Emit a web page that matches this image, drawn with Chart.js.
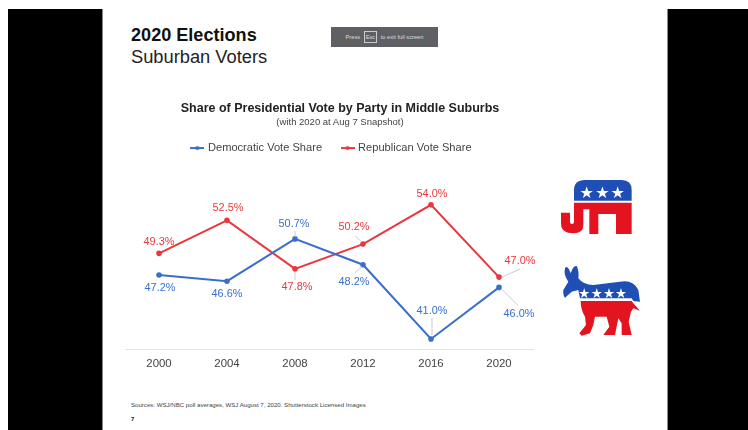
<!DOCTYPE html>
<html>
<head>
<meta charset="utf-8">
<script src="https://cdn.jsdelivr.net/npm/chart.js@4"></script>
<style>
    html, body { margin: 0; padding: 0; background: #fff; }
    body { width: 748px; height: 430px; overflow: hidden; position: relative; font-family: "Liberation Sans", Arial, sans-serif; }
    .bar { position: absolute; top: 9px; height: 421px; background: #000; }
    #barLeft { left: 8px; width: 94px; border-right: 1px solid #888; }
    #barRight { left: 667px; width: 81px; border-left: 1px solid #888; }
    .abs { position: absolute; white-space: nowrap; }
    #heading { left: 131px; top: 25px; font-size: 18.1px; font-weight: bold; color: #111; }
    #subheading { left: 131px; top: 46px; font-size: 18.3px; color: #222; }
    #escNote { left: 331px; top: 27px; width: 107px; height: 20px; background: #5f6063; color: #ddd; font-size: 5.7px; line-height: 20px; text-align: center; }
    #escNote span { border: 1px solid #ccc; padding: 2px 1px; margin: 0 2px; }
    #chartTitle { left: 103px; width: 474px; top: 101px; text-align: center; font-size: 12.5px; font-weight: bold; color: #222; }
    #chartNote { left: 103px; width: 474px; top: 116px; text-align: center; font-size: 9.5px; color: #444; }
    #sources { left: 131px; top: 401px; font-size: 6.1px; color: #444; }
    #pageNum { left: 131px; top: 416px; font-size: 6px; font-weight: bold; color: #222; }
    #chartBox { position: absolute; left: 103px; top: 90px; width: 564px; height: 290px; }
    svg.logo { position: absolute; left: 550px; top: 170px; }
</style>
</head>
<body>
<div class="bar" id="barLeft"></div>
<div class="bar" id="barRight"></div>
<div class="abs" id="heading">2020 Elections</div>
<div class="abs" id="subheading">Suburban Voters</div>
<div class="abs" id="escNote">Press <span>Esc</span> to exit full screen</div>
<div id="chartBox"><canvas id="voteChart" width="564" height="290"></canvas></div>
<div class="abs" id="chartTitle">Share of Presidential Vote by Party in Middle Suburbs</div>
<div class="abs" id="chartNote">(with 2020 at Aug 7 Snapshot)</div>

<!-- party logos -->
<svg class="logo" width="100" height="175" viewBox="0 0 300 525">
    <path d="M72 92V60Q72 30 105 30H215Q245 30 245 60V92Z" fill="#1f4fb5"/>
    <path d="M72 98H245V192H198V132H145V192H118V118H100V165Q100 190 70 190Q33 190 33 160V128H60V155Q60 162 66 162Q72 162 72 155Z" fill="#e3141f"/>
    <g fill="#fff" font-size="48" font-family="DejaVu Sans" text-anchor="middle">
        <text x="110" y="84">★</text><text x="157" y="84">★</text><text x="203" y="84">★</text>
    </g>
    <path d="M45 295Q50 285 58 300L62 310Q70 285 80 288Q88 305 85 325Q100 345 130 345L210 335Q250 328 265 360L270 395L250 393L245 385L90 385L85 360L65 365L45 383Q38 375 40 360L55 335Q40 315 45 295Z" fill="#1f4fb5"/>
    <path d="M92 393H245L250 400L270 422L250 415L243 425L236 455L245 495H215L215 460L205 445L195 495H160L178 470L170 440H135L130 465L120 490L95 497L88 490L108 465L105 440Q92 420 92 393Z" fill="#e3141f"/>
    <g fill="#fff" font-size="40" font-family="DejaVu Sans" text-anchor="middle">
        <text x="103" y="384">★</text><text x="140" y="384">★</text><text x="177" y="384">★</text><text x="213" y="384">★</text>
    </g>
</svg>

<div class="abs" id="sources">Sources: WSJ/NBC poll averages, WSJ August 7, 2020. Shutterstock Licensed Images</div>
<div class="abs" id="pageNum">7</div>

<script>
// Election years and vote share per party
const years = ['2000', '2004', '2008', '2012', '2016', '2020'];
const demShare = [47.2, 46.6, 50.7, 48.2, 41.0, 46.0];
const repShare = [49.3, 52.5, 47.8, 50.2, 54.0, 47.0];

const demColor = '#3a6fc9';
const repColor = '#e8383d';
const fontFamily = '"Liberation Sans", Arial, sans-serif';

// Label placement around each point: dx, dy from the point, and an optional grey leader
const demLabels = [
    { dx: 1, dy: 12.5 }, { dx: 0, dy: 13 }, { dx: -1, dy: -15, leader: [0, -2, 0, -8] },
    { dx: -9, dy: 17, leader: [-1, 2, -8, 8] }, { dx: 1, dy: -28, leader: [1, -4, 1, -21] },
    { dx: 20, dy: 27, leader: [3, 2, 19, 18] }
];
const repLabels = [
    { dx: 0, dy: -11 }, { dx: 1, dy: -12 }, { dx: 2, dy: 18.5, leader: [0, 3, 0, 11] },
    { dx: -9, dy: -17, leader: [-1, -2, -8, -8] }, { dx: 1, dy: -11 },
    { dx: 21, dy: -16, leader: [3, 0, 21, -8] }
];

// Small line-and-dot swatch used in the legend
function legendSwatch(color) {
    const swatch = document.createElement('canvas');
    swatch.width = 14;
    swatch.height = 6;
    const c = swatch.getContext('2d');
    c.fillStyle = color;
    c.fillRect(0, 2, 14, 2);
    c.beginPath();
    c.arc(7, 3, 2, 0, Math.PI * 2);
    c.fill();
    return swatch;
}

// Draws the value labels and their leader lines next to each point
const valueLabels = {
    id: 'valueLabels',
    afterDatasetsDraw(chart) {
        const ctx = chart.ctx;
        const placements = [demLabels, repLabels];
        chart.data.datasets.forEach((dataset, i) => {
            chart.getDatasetMeta(i).data.forEach((point, j) => {
                const place = placements[i][j];
                if (place.leader) {
                    const l = place.leader;
                    ctx.strokeStyle = '#cccccc';
                    ctx.lineWidth = 1;
                    ctx.beginPath();
                    ctx.moveTo(point.x + l[0], point.y + l[1]);
                    ctx.lineTo(point.x + l[2], point.y + l[3]);
                    ctx.stroke();
                }
                ctx.font = '10.9px ' + fontFamily;
                ctx.fillStyle = dataset.borderColor;
                ctx.textAlign = 'center';
                ctx.textBaseline = 'middle';
                ctx.fillText(dataset.data[j].toFixed(1) + '%', point.x + place.dx, point.y + place.dy);
            });
        });
    }
};

const canvas = document.getElementById('voteChart');
canvas.getContext('2d').textRendering = 'geometricPrecision';

new Chart(canvas, {
    type: 'line',
    data: {
        labels: years,
        datasets: [
            { label: 'Democratic Vote Share', data: demShare, borderColor: demColor, backgroundColor: demColor, borderWidth: 2, pointRadius: 1.8, tension: 0 },
            { label: 'Republican Vote Share', data: repShare, borderColor: repColor, backgroundColor: repColor, borderWidth: 2, pointRadius: 1.8, tension: 0 }
        ]
    },
    options: {
        responsive: false,
        animation: false,
        layout: { padding: { left: 22, right: 128, top: 32, bottom: 1 } },
        plugins: {
            legend: {
                labels: {
                    color: '#444',
                    font: { family: fontFamily, size: 11.1 },
                    usePointStyle: true,
                    pointStyleWidth: 10,
                    padding: 20.5,
                    generateLabels(chart) {
                        return chart.data.datasets.map((d, i) => ({
                            text: d.label,
                            fontColor: '#444',
                            datasetIndex: i,
                            lineWidth: 0,
                            pointStyle: legendSwatch(d.borderColor)
                        }));
                    }
                }
            },
            tooltip: { enabled: false }
        },
        scales: {
            x: {
                offset: true,
                grid: { display: false, drawTicks: false },
                border: { color: '#e4e4e4' },
                ticks: { color: '#444', font: { family: fontFamily, size: 11.4 }, padding: 8 }
            },
            y: {
                min: 40,
                max: 58,
                position: 'right',
                grid: { display: false },
                border: { display: false },
                ticks: { display: false },
                // empty strip on the right so the legend centres a little past the plot
                afterFit(axis) { axis.width = 6; }
            }
        }
    },
    plugins: [valueLabels]
});
</script>
</body>
</html>
